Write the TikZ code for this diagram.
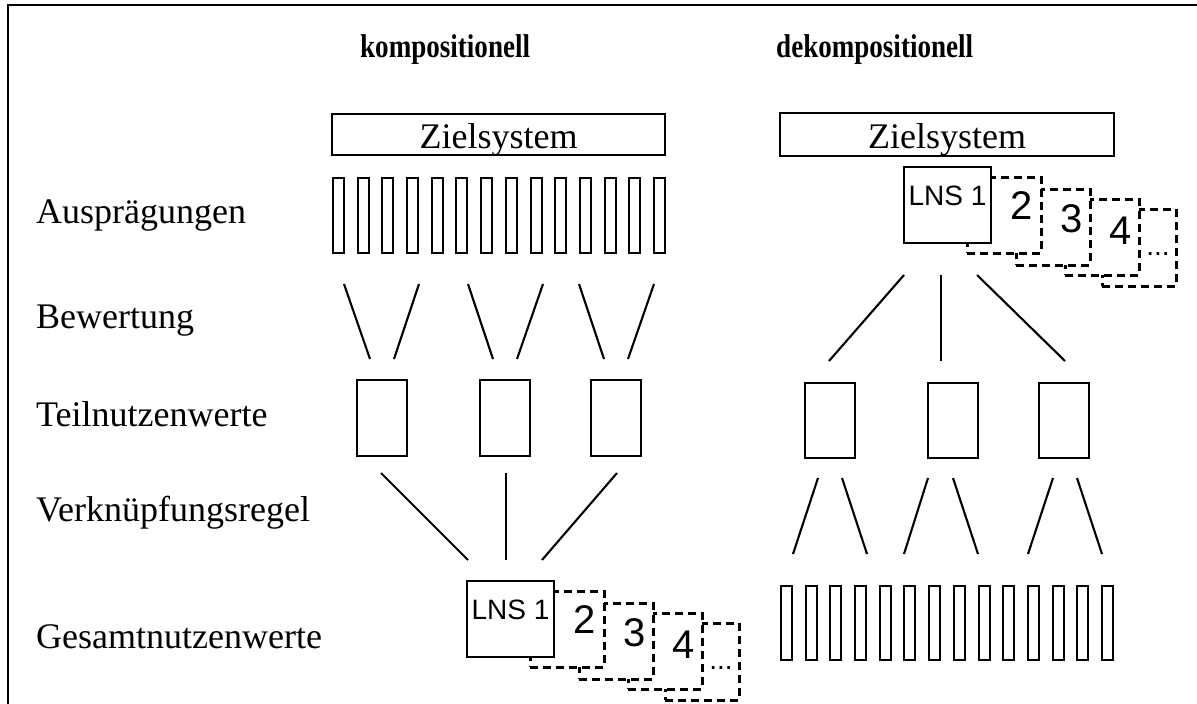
\documentclass[tikz,border=0pt]{standalone}
\usepackage{fontspec}
\setmainfont{Liberation Serif}
\newfontfamily\arialfont{Liberation Sans}
\begin{document}
\begin{tikzpicture}[x=1pt,y=-1pt,
  conn/.style={line width=2.1pt},
  frameline/.style={line width=2.5pt},
  box/.style={draw, line width=2.1pt, fill=white, inner sep=0pt, outer sep=0pt, anchor=north west},
  dbox/.style={box, dash pattern=on 8pt off 5pt, line width=3pt},
  lbl/.style={anchor=base west, inner sep=0pt, font=\fontsize{36}{40}\selectfont},
  ttl/.style={anchor=base west, inner sep=0pt, font=\fontsize{33}{38}\selectfont\bfseries},
  zt/.style={anchor=base, inner sep=0pt, font=\fontsize{36}{40}\selectfont},
  lns/.style={anchor=base, inner sep=0pt, font=\arialfont\fontsize{28}{32}\selectfont},
  dig/.style={anchor=center, inner sep=0pt, font=\arialfont\fontsize{40}{44}\selectfont}
]
\useasboundingbox (0,0) rectangle (1197,704);
% frame
\draw[frameline] (8,704) -- (8,5) -- (1197,5);
% titles
\node[ttl] (tk) at (360,57) {\scalebox{0.82}[1]{kompositionell}};
\node[ttl] (td) at (776,57) {\scalebox{0.82}[1]{dekompositionell}};
% row labels
\node[lbl] (la) at (36,223) {Ausprägungen};
\node[lbl] (lb) at (36,328) {Bewertung};
\node[lbl] (lt) at (36,426) {Teilnutzenwerte};
\node[lbl] (lv) at (36,521) {Verknüpfungsregel};
\node[lbl] (lg) at (36,648) {Gesamtnutzenwerte};
% Zielsystem boxes
\node[box, minimum width=333, minimum height=41] (zl) at (332,114) {};
\node[zt] (zlt) at (498.5,148) {Zielsystem};
\node[box, minimum width=334, minimum height=43] (zr) at (780,113) {};
\node[zt] (zrt) at (947,148) {Zielsystem};
% left bars (Ausprägungen)
\foreach \i in {0,...,13}
  \node[box, minimum width=11, minimum height=75] (al\i) at ({333+round(24.7*\i)},178) {};
% left Bewertung lines
\foreach \i/\xa/\xb in {1/344/370,2/419/394,3/468/493,4/543/517,5/579/604,6/654/628}{
  \coordinate (bwa\i) at (\xa,284);
  \coordinate (bwb\i) at (\xb,359);
  \draw[conn] (bwa\i) -- (bwb\i);
}
% left Teilnutzenwerte boxes
\foreach \i/\x in {1/357,2/480,3/591}
  \node[box, minimum width=50, minimum height=76] (tl\i) at (\x,380) {};
% left Verknuepfung lines
\foreach \i/\xa/\xb in {1/381/468,2/506/506,3/617/542}{
  \coordinate (vka\i) at (\xa,473);
  \coordinate (vkb\i) at (\xb,560);
  \draw[conn] (vka\i) -- (vkb\i);
}
% LNS stacks
\foreach \s/\dx/\dy in {L/0/0,R/437/-414}{
  \begin{scope}[shift={(\dx,\dy)}]
    \node[dbox, minimum width=74, minimum height=77] (\s b5) at (665,623) {};
    \node[dbox, minimum width=74, minimum height=76] (\s b4) at (628,613) {};
    \node[dbox, minimum width=74, minimum height=76] (\s b3) at (579,603) {};
    \node[dbox, minimum width=74, minimum height=76] (\s b2) at (530,591) {};
    \node[box, minimum width=87, minimum height=76] (\s b1) at (467,581) {};
    \node[lns] (\s t1) at (510.5,619) {LNS 1};
    \node[dig] (\s t2) at (585,620) {2};
    \node[dig] (\s t3) at (635,633) {3};
    \node[dig] (\s t4) at (684,645) {4};
    \node[lns] (\s t5) at (721,669) {...};
  \end{scope}
}
% right lines from LNS
\foreach \i/\xa/\xb in {1/904/829,2/941/941,3/977/1065}{
  \coordinate (rla\i) at (\xa,275);
  \coordinate (rlb\i) at (\xb,361);
  \draw[conn] (rla\i) -- (rlb\i);
}
% right Teilnutzenwerte boxes
\foreach \i/\x in {1/805,2/928,3/1039}
  \node[box, minimum width=50, minimum height=75] (tr\i) at (\x,383) {};
% right lower lines
\foreach \i/\xa/\xb in {1/818/793,2/842/867,3/928/904,4/953/978,5/1053/1028,6/1077/1102}{
  \coordinate (rva\i) at (\xa,478);
  \coordinate (rvb\i) at (\xb,554);
  \draw[conn] (rva\i) -- (rvb\i);
}
% right bottom bars
\foreach \i in {0,...,13}
  \node[box, minimum width=11, minimum height=74] (ar\i) at ({781+round(24.7*\i)},586) {};
\end{tikzpicture}
\end{document}
